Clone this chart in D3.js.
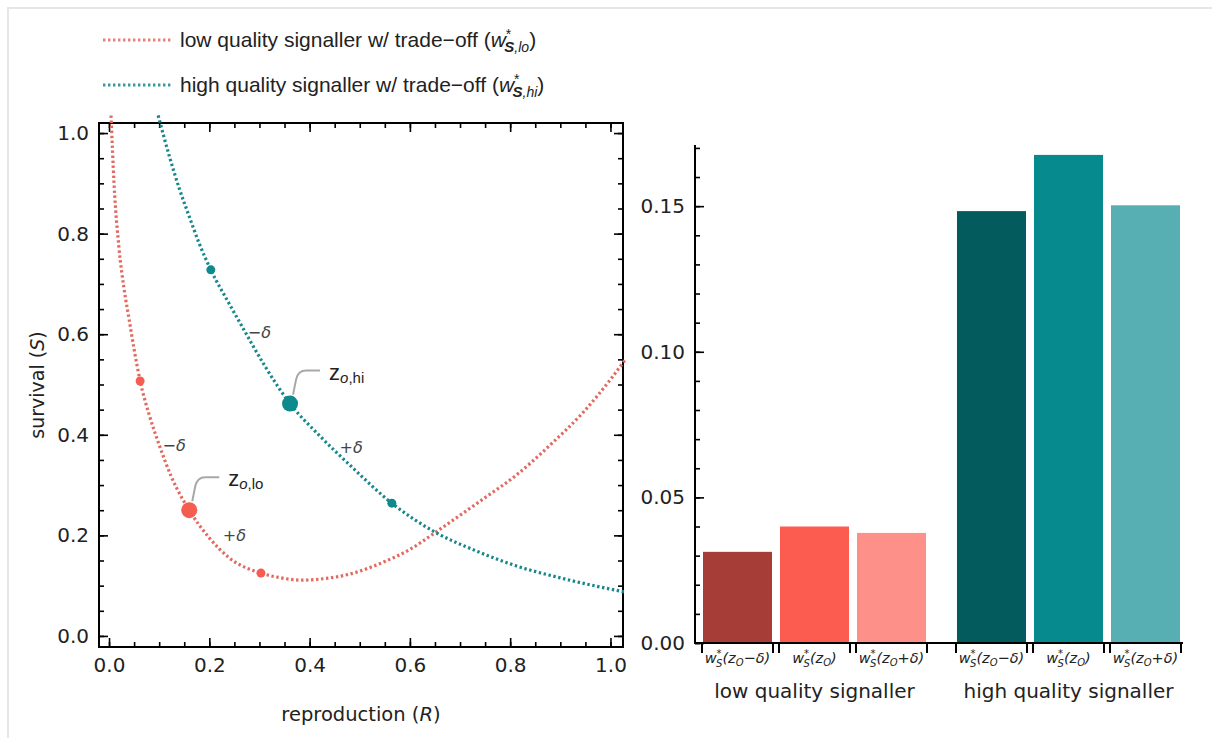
<!DOCTYPE html>
<html>
<head>
<meta charset="utf-8">
<script src="https://cdn.jsdelivr.net/npm/d3@7"></script>
<style>
body { margin: 0; background: #fff; }
svg text { font-family: "DejaVu Sans", sans-serif; }
</style>
</head>
<body>
<svg id="chart" width="1212" height="738"></svg>
<script>
// survival / reproduction curves (R, S)
let loR = [0.004, 0.010, 0.020, 0.030, 0.040, 0.050, 0.062, 0.080, 0.100, 0.125, 0.160, 0.200, 0.240, 0.303, 0.340, 0.385, 0.430, 0.480, 0.550, 0.600, 0.651, 0.700, 0.750, 0.810, 0.880, 0.945, 1.000, 1.030];
let loS = [1.035, 0.900, 0.770, 0.690, 0.630, 0.570, 0.507, 0.440, 0.380, 0.315, 0.250, 0.195, 0.155, 0.125, 0.116, 0.111, 0.114, 0.123, 0.148, 0.172, 0.206, 0.240, 0.275, 0.318, 0.380, 0.444, 0.510, 0.550];
let hiR = [0.098, 0.120, 0.140, 0.160, 0.180, 0.203, 0.240, 0.270, 0.310, 0.361, 0.420, 0.480, 0.564, 0.651, 0.730, 0.810, 0.910, 1.030];
let hiS = [1.035, 0.955, 0.890, 0.834, 0.780, 0.728, 0.660, 0.607, 0.538, 0.462, 0.398, 0.340, 0.264, 0.206, 0.170, 0.140, 0.113, 0.087];

// marked strategies z-δ, z, z+δ
let loMarkR = [0.062, 0.160, 0.303];
let loMarkS = [0.507, 0.250, 0.125];
let hiMarkR = [0.203, 0.361, 0.564];
let hiMarkS = [0.728, 0.462, 0.264];

// δ annotations (R, S position)
let deltaText = ['−δ', '+δ', '−δ', '+δ'];
let deltaR = [0.300, 0.483, 0.130, 0.250];
let deltaS = [0.605, 0.375, 0.380, 0.200];

let axisTicks = [0, 0.2, 0.4, 0.6, 0.8, 1.0];
let axisMinor = d3.range(0, 1.0001, 0.05);

// bar chart
let groups = ['low quality signaller', 'high quality signaller'];
let barKeys = ['−δ', '', '+δ'];
let lowBars = [0.0313, 0.0400, 0.0378];
let highBars = [0.1483, 0.1676, 0.1503];
let barTicks = [0, 0.05, 0.10, 0.15];
let barMinor = d3.range(0, 0.1701, 0.01);

let loColor = '#e3695f', hiColor = '#17878a';
let loDot = '#f45d50', hiDot = '#0f8a8c';
let lowColors = ['#a63d36', '#fc5b4f', '#fd9189'];
let highColors = ['#045b5e', '#078a8d', '#58afb3'];

let svg = d3.select('#chart');
svg.append('rect').attr('width', 1212).attr('height', 738).attr('fill', '#fff');
svg.append('path').attr('d', 'M8,738V8H1212')
    .attr('fill', 'none').attr('stroke', '#e6e6e6').attr('stroke-width', 2);

// ---------- legend
let legend = [
    {color: loColor, y: 40, head: 'low quality signaller w/ trade−off (', sub: ',lo'},
    {color: hiColor, y: 85, head: 'high quality signaller w/ trade−off (', sub: ',hi'}
];
legend.forEach(l => {
    svg.append('line')
        .attr('x1', 103).attr('x2', 172).attr('y1', l.y).attr('y2', l.y)
        .attr('stroke', l.color).attr('stroke-width', 3).attr('stroke-dasharray', '2.4,2.6')
        .attr('opacity', 0.85);
    let t = svg.append('text').attr('x', 180).attr('y', l.y + 7)
        .style('font-family', '"Liberation Sans", Arial, sans-serif')
        .attr('font-size', 21).attr('fill', '#222');
    t.append('tspan').text(l.head);
    t.append('tspan').attr('font-style', 'italic').text('w');
    t.append('tspan').attr('dy', -8).attr('font-size', 14).text('*');
    t.append('tspan').attr('dx', -7).attr('dy', 13).attr('font-size', 15)
        .attr('font-style', 'italic').attr('font-weight', 'bold').text('S');
    t.append('tspan').attr('font-size', 14).attr('font-style', 'italic').text(l.sub);
    t.append('tspan').attr('dy', -5).text(')');
});

// ---------- left panel
let x = d3.scaleLinear().domain([-0.02, 1.025]).range([99, 623]);
let y = d3.scaleLinear().domain([-0.022, 1.02]).range([647, 123]);

function frameTicks(axisGen, scale, tx, ty, major, minor, fmt, pad) {
    let g = svg.append('g').attr('transform', `translate(${tx},${ty})`);
    g.append('g').call(axisGen(scale).tickValues(minor).tickSize(-5).tickFormat(''));
    g.append('g').call(axisGen(scale).tickValues(major).tickSize(-9).tickPadding(pad).tickFormat(fmt || ''));
    g.selectAll('.domain').remove();
    g.selectAll('line').attr('stroke', '#000').attr('stroke-width', 1.6);
    g.selectAll('text').attr('font-size', 20).attr('fill', '#222')
        .attr('font-family', '"DejaVu Sans", sans-serif');
    return g;
}
let fmt1 = d3.format('.1f');
frameTicks(d3.axisBottom, x, 0, 647, axisTicks, axisMinor, fmt1, 11);
frameTicks(d3.axisTop, x, 0, 123, axisTicks, axisMinor, null, 0);
frameTicks(d3.axisLeft, y, 99, 0, axisTicks, axisMinor, fmt1, 10);
frameTicks(d3.axisRight, y, 623, 0, axisTicks, axisMinor, null, 0);

svg.append('rect').attr('x', 99).attr('y', 123).attr('width', 524).attr('height', 524)
    .attr('fill', 'none').attr('stroke', '#000').attr('stroke-width', 2);

svg.append('text')
    .attr('transform', `translate(44,${(123 + 647) / 2}) rotate(-90)`)
    .attr('text-anchor', 'middle').attr('font-size', 19).attr('fill', '#222')
    .call(t => {
        t.append('tspan').text('survival (');
        t.append('tspan').attr('font-style', 'italic').text('S');
        t.append('tspan').text(')');
    });
svg.append('text')
    .attr('x', (99 + 623) / 2).attr('y', 721)
    .attr('text-anchor', 'middle').attr('font-size', 19.5).attr('fill', '#222')
    .call(t => {
        t.append('tspan').text('reproduction (');
        t.append('tspan').attr('font-style', 'italic').text('R');
        t.append('tspan').text(')');
    });

let line = d3.line().x(d => x(d[0])).y(d => y(d[1])).curve(d3.curveMonotoneX);
[[d3.zip(loR, loS), loColor], [d3.zip(hiR, hiS), hiColor]].forEach(([pts, c]) => {
    svg.append('path').datum(pts).attr('d', line)
        .attr('fill', 'none').attr('stroke', c)
        .attr('stroke-width', 3.2).attr('stroke-dasharray', '2.4,2.6');
});

// δ labels
svg.append('g').selectAll('text')
    .data(deltaText)
    .join('text')
    .attr('x', (d, i) => x(deltaR[i]))
    .attr('y', (d, i) => y(deltaS[i]) + 6)
    .attr('text-anchor', 'middle')
    .attr('font-size', 16).attr('font-style', 'italic').attr('fill', '#444')
    .text(d => d);

// callouts to the optimum points
[[loMarkR[1], loMarkS[1], 'lo'], [hiMarkR[1], hiMarkS[1], 'hi']].forEach(([r, s, tag]) => {
    let px = x(r), py = y(s);
    svg.append('path')
        .attr('d', `M${px + 3},${py - 9}L${px + 6},${py - 24}Q${px + 8},${py - 33} ${px + 16},${py - 33}L${px + 30},${py - 33}`)
        .attr('fill', 'none').attr('stroke', '#a8a8a8').attr('stroke-width', 2);
    let t = svg.append('text').attr('x', px + 39).attr('y', py - 24)
        .style('font-family', '"Liberation Sans", Arial, sans-serif')
        .attr('fill', '#222');
    t.append('tspan').attr('font-size', 22).text('z');
    t.append('tspan').attr('font-size', 15).attr('font-style', 'italic').attr('dy', 3).text('o');
    t.append('tspan').attr('font-size', 15).text(',' + tag);
});

// markers
[[loMarkR, loMarkS, loDot], [hiMarkR, hiMarkS, hiDot]].forEach(([rs, ss, c]) => {
    svg.append('g').selectAll('circle')
        .data(rs)
        .join('circle')
        .attr('cx', d => x(d))
        .attr('cy', (d, i) => y(ss[i]))
        .attr('r', (d, i) => i === 1 ? 8 : 4.5)
        .attr('fill', c);
});

// ---------- right panel: bars
let yb = d3.scaleLinear().domain([0, 0.171]).range([643, 145]);
let gx = d3.scaleBand().domain(groups).range([703, 1180]).paddingInner(0.122);
let bx = d3.scaleBand().domain(barKeys).range([0, gx.bandwidth()]).paddingInner(0.104);

let barAxis = svg.append('g').attr('transform', 'translate(695,0)');
barAxis.append('g').call(d3.axisLeft(yb).tickValues(barMinor).tickSize(-5).tickFormat(''));
barAxis.append('g').call(d3.axisLeft(yb).tickValues(barTicks).tickSize(-9).tickSizeOuter(0)
    .tickPadding(10).tickFormat(d3.format('.2f')));
barAxis.selectAll('.domain').remove();
barAxis.selectAll('line').attr('stroke', '#000').attr('stroke-width', 1.6);
barAxis.selectAll('text').attr('font-size', 20).attr('fill', '#222')
    .attr('font-family', '"DejaVu Sans", sans-serif');
svg.append('line').attr('x1', 695).attr('x2', 695).attr('y1', yb(0) + 1).attr('y2', 145)
    .attr('stroke', '#000').attr('stroke-width', 2);

let barGroups = svg.append('g').selectAll('g')
    .data(groups)
    .join('g')
    .attr('transform', d => `translate(${gx(d)},0)`);

barGroups.selectAll('rect')
    .data((g, gi) => barKeys.map((k, i) => ({key: k, value: gi ? highBars[i] : lowBars[i], color: gi ? highColors[i] : lowColors[i]})))
    .join('rect')
    .attr('x', d => bx(d.key))
    .attr('y', d => yb(d.value))
    .attr('width', bx.bandwidth())
    .attr('height', d => yb(0) - yb(d.value))
    .attr('fill', d => d.color);

svg.append('line').attr('x1', 694).attr('x2', 1183).attr('y1', yb(0)).attr('y2', yb(0))
    .attr('stroke', '#000').attr('stroke-width', 2);

// bracket ticks and small labels below each bar
barGroups.each(function () {
    let g = d3.select(this);
    barKeys.forEach(k => {
        [bx(k) - 1, bx(k) + bx.bandwidth() + 1].forEach(tx => {
            g.append('line').attr('x1', tx).attr('x2', tx)
                .attr('y1', yb(0)).attr('y2', yb(0) + 10)
                .attr('stroke', '#000').attr('stroke-width', 2);
        });
        let t = g.append('text')
            .attr('x', bx(k) + bx.bandwidth() / 2).attr('y', 663)
            .attr('text-anchor', 'middle').attr('font-size', 14.5)
            .attr('font-style', 'italic').attr('fill', '#222');
        t.append('tspan').text('w');
        t.append('tspan').attr('dy', -6).attr('font-size', 10).text('*');
        t.append('tspan').attr('dx', -5.5).attr('dy', 10).attr('font-size', 10).text('S');
        t.append('tspan').attr('dy', -4).text('(z');
        t.append('tspan').attr('dy', 3).attr('font-size', 10).text('O');
        t.append('tspan').attr('dy', -3).text(k + ')');
    });
});

barGroups.append('text')
    .attr('x', gx.bandwidth() / 2).attr('y', 698)
    .attr('text-anchor', 'middle').attr('font-size', 20).attr('fill', '#222')
    .text(d => d);
</script>
</body>
</html>
